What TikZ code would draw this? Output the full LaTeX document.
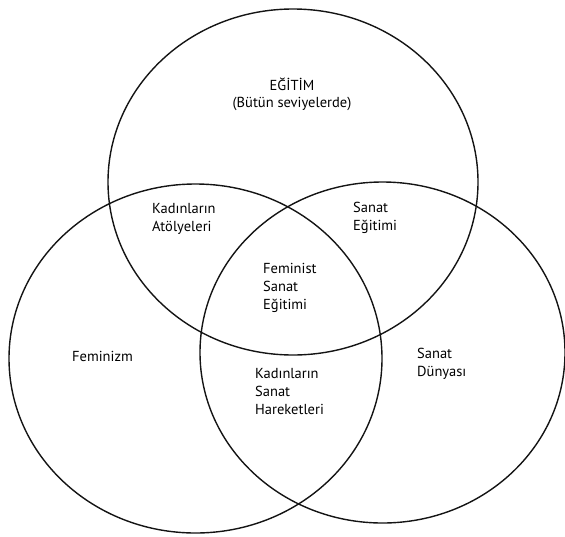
\documentclass[tikz,border=0pt]{standalone}
\usepackage{fontspec}
\setmainfont{PT Sans}
\begin{document}
\begin{tikzpicture}[x=1pt,y=-1pt,
  venn/.style={line width=1.4pt,draw=black!92},
  lbl/.style={inner sep=0pt,font=\fontsize{14.5}{18.3}\selectfont,anchor=base west},
  lblc/.style={inner sep=0pt,font=\fontsize{14.5}{17}\selectfont,anchor=base}]
\useasboundingbox (0,0) rectangle (565,536);
% circles
\draw[venn] (293,182) ellipse [x radius=185pt, y radius=173pt];
\draw[venn] (195.5,358.5) ellipse [x radius=186.5pt, y radius=174.5pt];
\draw[venn] (382.5,352.5) ellipse [x radius=182.5pt, y radius=170.5pt];
% labels
\node[lblc] (edu) at (292,90) {\begin{tabular}[t]{@{}c@{}}EĞİTİM\\(Bütün seviyelerde)\end{tabular}};
\node[lbl] (atol) at (152,213) {\begin{tabular}[t]{@{}l@{}}Kadınların\\Atölyeleri\end{tabular}};
\node[lbl] (sanegt) at (353,212) {\begin{tabular}[t]{@{}l@{}}Sanat\\Eğitimi\end{tabular}};
\node[lbl] (fse) at (263,273) {\begin{tabular}[t]{@{}l@{}}Feminist\\Sanat\\Eğitimi\end{tabular}};
\node[lbl] (fem) at (72,361) {Feminizm};
\node[lbl] (ksh) at (255,378) {\begin{tabular}[t]{@{}l@{}}Kadınların\\Sanat\\Hareketleri\end{tabular}};
\node[lbl] (sd) at (417,358) {\begin{tabular}[t]{@{}l@{}}Sanat\\Dünyası\end{tabular}};
\end{tikzpicture}
\end{document}
